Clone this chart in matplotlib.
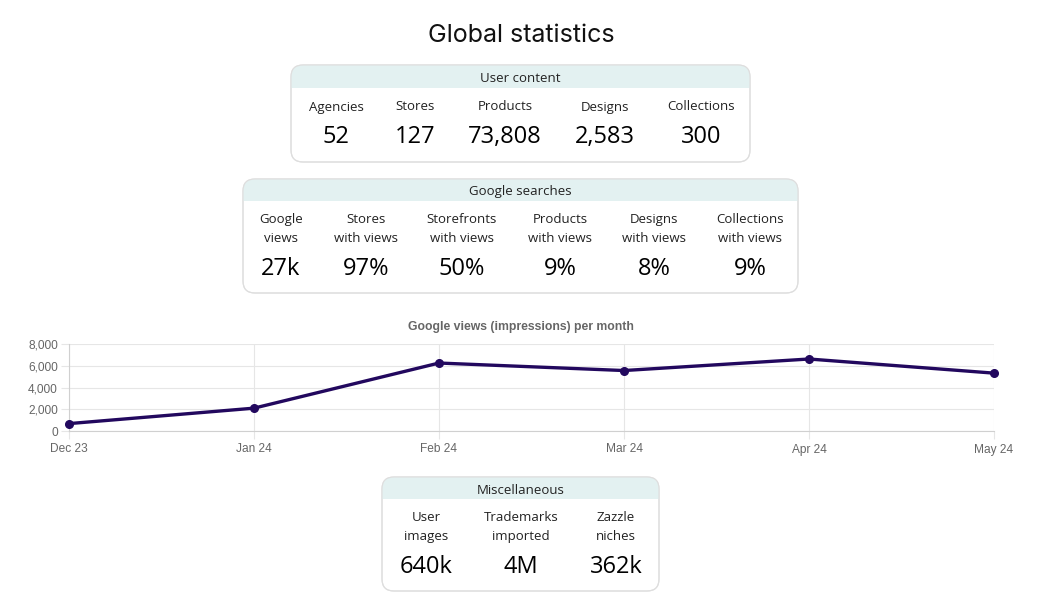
import matplotlib
matplotlib.use("Agg")
import matplotlib.pyplot as plt
from matplotlib.patches import FancyBboxPatch, Rectangle
from matplotlib.ticker import FuncFormatter

# --- data ---
user_labels = ["Agencies", "Stores", "Products", "Designs", "Collections"]
user_values = ["52", "127", "73,808", "2,583", "300"]

search_labels = ["Google\nviews", "Stores\nwith views", "Storefronts\nwith views",
                 "Products\nwith views", "Designs\nwith views", "Collections\nwith views"]
search_values = ["27k", "97%", "50%", "9%", "8%", "9%"]

misc_labels = ["User\nimages", "Trademarks\nimported", "Zazzle\nniches"]
misc_values = ["640k", "4M", "362k"]

months = ["Dec 23", "Jan 24", "Feb 24", "Mar 24", "Apr 24", "May 24"]
views = [680, 2100, 6250, 5560, 6620, 5320]

W, H = 1041, 613
fig = plt.figure(figsize=(W / 100, H / 100), dpi=100)
bg = fig.add_axes([0, 0, 1, 1])
bg.set_xlim(0, W)
bg.set_ylim(H, 0)
bg.axis("off")

card_font = "Open Sans"
head_col = "#e3f1f1"
border_col = "#dedede"

bg.text(521, 36, "Global statistics", ha="center", va="center",
        fontsize=18, family="Inter", color="#111111")


def card(x0, x1, y0, y1, head_h, title, centers, labels, values, label_y, value_y):
    box = FancyBboxPatch((x0, y0), x1 - x0, y1 - y0,
                         boxstyle="round,pad=0,rounding_size=12",
                         fc="white", ec=border_col, lw=0.8, zorder=1)
    bg.add_patch(box)
    band = Rectangle((x0, y0), x1 - x0, head_h, fc=head_col, ec="none", zorder=2)
    band.set_clip_path(box)
    bg.add_patch(band)
    edge = FancyBboxPatch((x0, y0), x1 - x0, y1 - y0,
                          boxstyle="round,pad=0,rounding_size=12",
                          fc="none", ec=border_col, lw=0.8, zorder=3)
    bg.add_patch(edge)
    bg.text((x0 + x1) / 2, y0 + head_h / 2 + 2, title, ha="center", va="center",
            fontsize=9.5, family=card_font, color="#222222", zorder=4)
    for cx, lab, val in zip(centers, labels, values):
        bg.text(cx, label_y, lab, ha="center", va="center", fontsize=9.5,
                family=card_font, color="#222222", linespacing=1.55, zorder=4)
        bg.text(cx, value_y, val, ha="center", va="center", fontsize=17,
                family=card_font, color="#000000", zorder=4)


card(291, 750, 65, 162, 23, "User content",
     [336, 415, 505, 605, 701], user_labels, user_values, 107, 137)
card(243, 798, 179, 293, 22, "Google searches",
     [281, 366, 462, 560, 654, 750], search_labels, search_values, 229, 269)
card(382, 659, 477, 591, 22, "Miscellaneous",
     [426, 521, 616], misc_labels, misc_values, 527, 567)

# --- line chart ---
left, right, top, bottom = 69, 994, 344, 431
ax = fig.add_axes([left / W, 1 - bottom / H, (right - left) / W, (bottom - top) / H])
ax.set_facecolor("none")
ax.plot(range(len(months)), views, color="#22085e", lw=2.4, marker="o",
        markersize=5.5, clip_on=False, zorder=5)
ax.set_xlim(0, len(months) - 1)
ax.set_ylim(0, 8000)
ax.set_xticks(range(len(months)))
ax.set_xticklabels(months)
ax.set_yticks([0, 2000, 4000, 6000, 8000])
ax.yaxis.set_major_formatter(FuncFormatter(lambda v, p: f"{int(v):,}"))
ax.grid(True, color="#e6e6e6", lw=0.8)
for s in ["top", "right"]:
    ax.spines[s].set_visible(False)
for s in ["left", "bottom"]:
    ax.spines[s].set_color("#d0d0d0")
    ax.spines[s].set_linewidth(0.8)
ax.tick_params(axis="x", length=6, color="#e6e6e6", pad=3, labelsize=8.6,
               labelcolor="#666666")
ax.tick_params(axis="y", length=6, color="#e6e6e6", pad=2, labelsize=8.6,
               labelcolor="#666666")
for t in ax.get_xticklabels() + ax.get_yticklabels():
    t.set_family("Liberation Sans")
bg.text(521, 327, "Google views (impressions) per month", ha="center", va="center",
        fontsize=8.8, fontweight="bold", color="#666666", family="Liberation Sans")

fig.savefig("out.png", dpi=100)
